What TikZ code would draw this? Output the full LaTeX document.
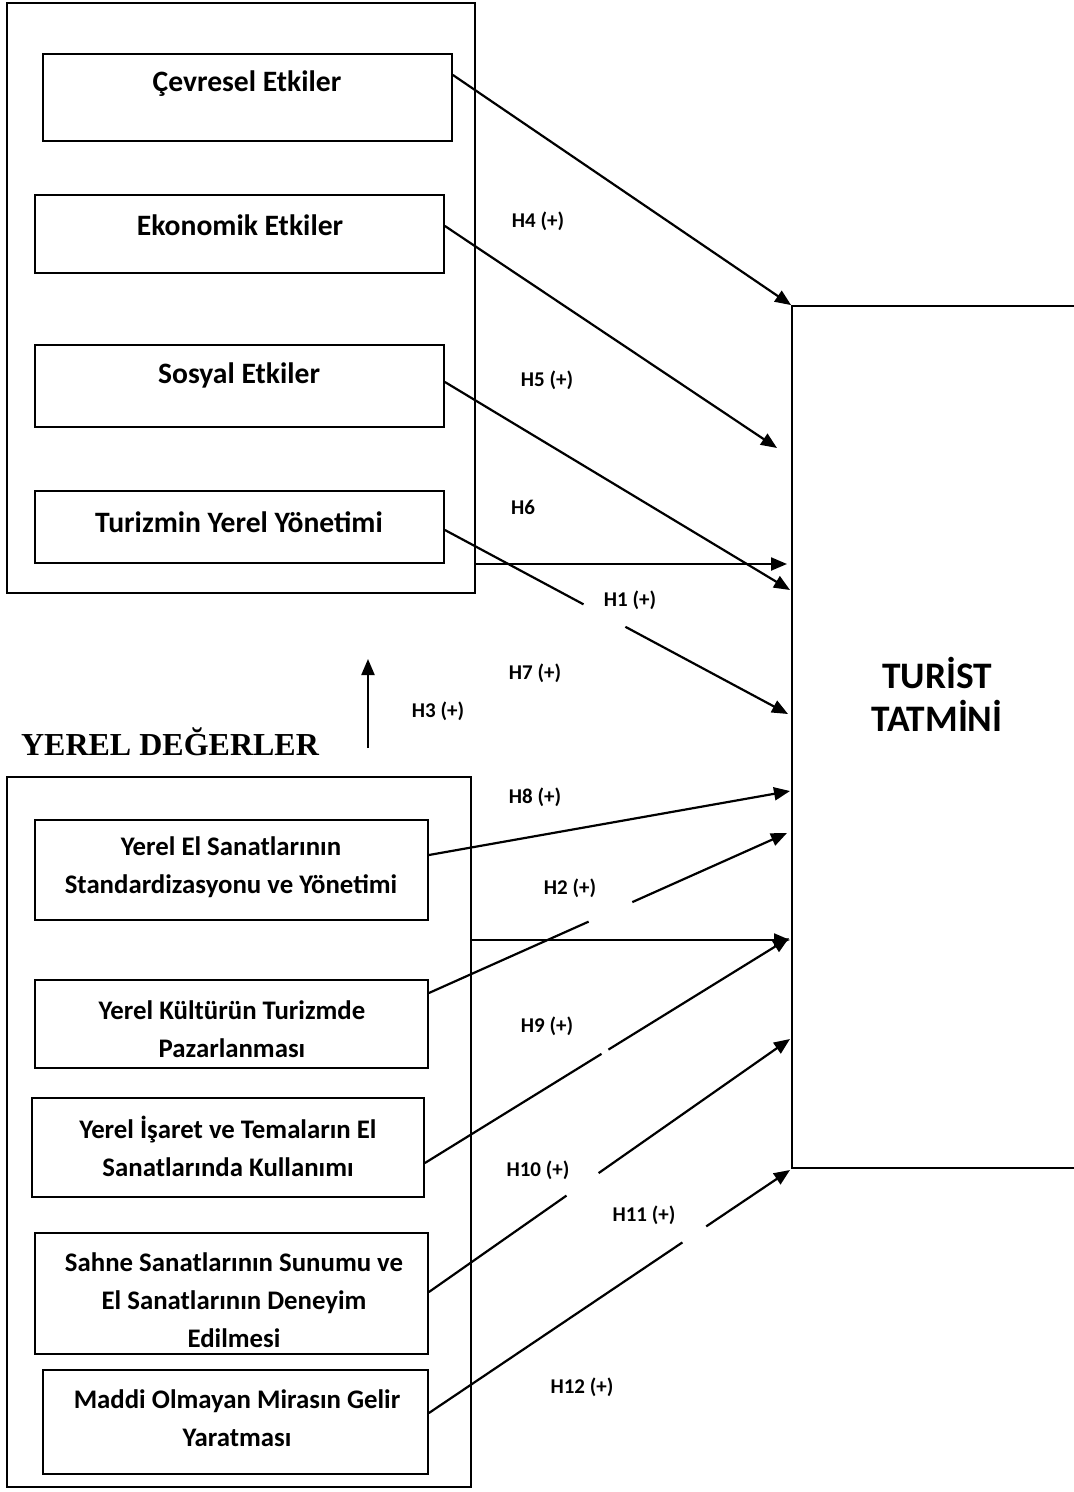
\documentclass[tikz,border=0pt]{standalone}
\usepackage{fontspec}
\setmainfont{Carlito}
\newfontfamily\serifbold{Liberation Serif}
\usetikzlibrary{arrows.meta,calc}

\tikzset{
  box/.style={draw, line width=0.9pt, inner sep=0pt},
  bigtext/.style={font=\bfseries\fontsize{14.8}{17}\selectfont, inner sep=0pt},
  smalltext/.style={font=\bfseries\fontsize{13.4}{19}\selectfont, align=center, inner sep=0pt},
  hyp/.style={font=\bfseries\fontsize{10.5}{12}\selectfont, inner sep=0pt},
  ln/.style={line width=1.1pt},
  arr/.style={line width=1.1pt, -{Triangle[length=8pt,width=6.5pt]}},
}

\begin{document}
\begin{tikzpicture}[x=0.5pt, y=-0.5pt]
\useasboundingbox (0,0) rectangle (1074,1492);

% upper group
\node (up) [box, minimum width=234pt, minimum height=295pt] at (241,298) {};
\node (cev) [box, minimum width=204.5pt, minimum height=43.5pt] at (247.5,97.5) {};
\node (eko) [box, minimum width=204.5pt, minimum height=39pt] at (239.5,234) {};
\node (sos) [box, minimum width=204.5pt, minimum height=41pt] at (239.5,386) {};
\node (tyy) [box, minimum width=204.5pt, minimum height=36pt] at (239.5,527) {};
\node (cevt) [bigtext] at (247,84) {Çevresel Etkiler};
\node (ekot) [bigtext] at (240,225) {Ekonomik Etkiler};
\node (sost) [bigtext] at (239,375) {Sosyal Etkiler};
\node (tyyt) [bigtext] at (239,522) {Turizmin Yerel Yönetimi};

% lower group
\node (title) [font=\serifbold\bfseries\fontsize{16}{19}\selectfont, inner sep=0pt] at (170,742) {YEREL DEĞERLER};
\node (low) [box, minimum width=232pt, minimum height=355pt] at (239,1132) {};
\node (yes) [box, minimum width=196.5pt, minimum height=50pt] at (231.5,870) {};
\node (ykt) [box, minimum width=196.5pt, minimum height=44pt] at (231.5,1024) {};
\node (yit) [box, minimum width=196pt, minimum height=49.5pt] at (228,1147.5) {};
\node (sah) [box, minimum width=196.5pt, minimum height=60.5pt] at (231.5,1293.5) {};
\node (mad) [box, minimum width=192.5pt, minimum height=52pt] at (235.5,1422) {};
\node (yest) [smalltext] at (231,867) {Yerel El Sanatlarının\\Standardizasyonu ve Yönetimi};
\node (yktt) [smalltext] at (232,1029) {Yerel Kültürün Turizmde\\Pazarlanması};
\node (yitt) [smalltext] at (228,1146) {Yerel İşaret ve Temaların El\\Sanatlarında Kullanımı};
\node (saht) [smalltext] at (234,1300) {Sahne Sanatlarının Sunumu ve\\El Sanatlarının Deneyim\\Edilmesi};
\node (madt) [smalltext] at (237,1418) {Maddi Olmayan Mirasın Gelir\\Yaratması};

% outcome
\node (tt) [box, minimum width=149pt, minimum height=431pt] at (941,737) {};
\node (ttt) [font=\bfseries\fontsize{18.7}{21.5}\selectfont, align=center, inner sep=0pt] at (937,694) {TURİST\\TATMİNİ};

% hypothesis labels
\node (h4) [hyp] at (538,221) {H4 (+)};
\node (h5) [hyp] at (547,380) {H5 (+)};
\node (h6) [hyp] at (523,507) {H6};
\node (h1) [hyp] at (630,600) {H1 (+)};
\node (h7) [hyp] at (535,673) {H7 (+)};
\node (h3) [hyp] at (438,711) {H3 (+)};
\node (h8) [hyp] at (535,797) {H8 (+)};
\node (h2) [hyp] at (570,888) {H2 (+)};
\node (h9) [hyp] at (547,1026) {H9 (+)};
\node (h10) [hyp] at (538,1170) {H10 (+)};
\node (h11) [hyp] at (644,1215) {H11 (+)};
\node (h12) [hyp] at (582,1387) {H12 (+)};

% arrow ends
\coordinate (t2) at (777,448);
\coordinate (t3) at (790,590);
\coordinate (t4) at (787,564);
\coordinate (t5) at (788,714);
\coordinate (t6) at (790,791);
\coordinate (t7) at (787,833);
\coordinate (t8) at (790,940);
\coordinate (t9) at (789,938);
\coordinate (t10) at (790,1039);
\coordinate (t11) at (790,1170);
\coordinate (s5) at (tyy.east |- 0,530);
\coordinate (s7) at (ykt.east |- 0,993);
\coordinate (s9) at (yit.east |- 0,1163);
\coordinate (s10) at (sah.east |- 0,1292);
\coordinate (s11) at (mad.east |- 0,1413);
\coordinate (h3s) at (368,748);
\coordinate (h3e) at (368,659);

% connectors
\draw[arr] (cev.east |- 0,75) -- (tt.north west);
\draw[arr] (eko.east |- 0,226) -- (t2);
\draw[arr] (sos.east |- 0,382) -- (t3);
\draw[arr] (up.east |- 0,564) -- (t4);
\draw[ln] (s5) -- ($(s5)!0.404!(t5)$);
\draw[arr] ($(s5)!0.526!(t5)$) -- (t5);
\draw[arr] (h3s) -- (h3e);
\draw[arr] (yes.east |- 0,855) -- (t6);
\draw[ln] (s7) -- ($(s7)!0.446!(t7)$);
\draw[arr] ($(s7)!0.568!(t7)$) -- (t7);
\draw[arr] (low.east |- 0,940) -- (t8);
\draw[ln] (s9) -- ($(s9)!0.485!(t9)$);
\draw[arr] ($(s9)!0.504!(t9)$) -- (t9);
\draw[ln] (s10) -- ($(s10)!0.381!(t10)$);
\draw[arr] ($(s10)!0.470!(t10)$) -- (t10);
\draw[ln] (s11) -- ($(s11)!0.702!(t11)$);
\draw[arr] ($(s11)!0.768!(t11)$) -- (t11);
\end{tikzpicture}
\end{document}
